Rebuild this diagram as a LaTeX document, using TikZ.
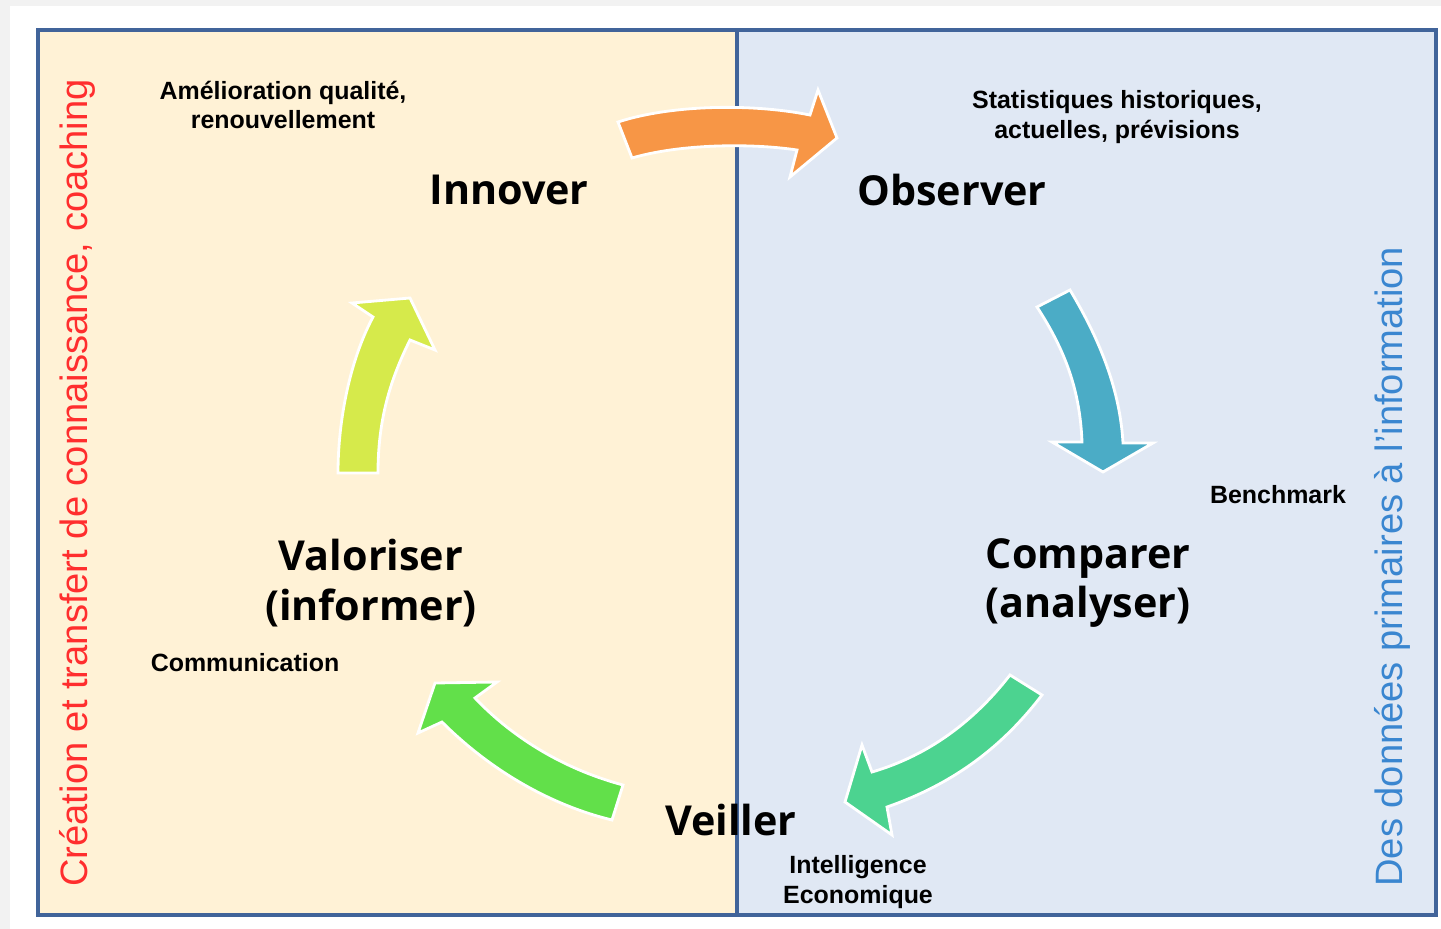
\documentclass[tikz,border=0pt]{standalone}
\usepackage{fontspec}
\setmainfont{Liberation Sans}
\newfontfamily\titrefont{Open Sans}
\definecolor{creme}{HTML}{FFF2D6}
\definecolor{bleupale}{HTML}{E0E8F4}
\definecolor{cadre}{HTML}{41649A}
\definecolor{rougeaxe}{HTML}{FF2E2E}
\definecolor{bleuaxe}{HTML}{3A86D0}
\definecolor{orangeflux}{HTML}{F79646}
\definecolor{bleuflux}{HTML}{4BACC6}
\definecolor{vertflux}{HTML}{4CD390}
\definecolor{vifflux}{HTML}{62E04A}
\definecolor{jauneflux}{HTML}{D6EA4B}
\tikzset{
  etape/.style={font=\titrefont\bfseries\fontsize{23.5}{28.4}\selectfont, align=center, inner sep=0pt},
  detail/.style={font=\bfseries\fontsize{14.2}{17}\selectfont, align=center, inner sep=0pt},
  axe/.style={font=\fontsize{21.7}{26}\selectfont, rotate=90, anchor=west, inner sep=0pt},
  fleche/.style={draw=white, line width=1.6pt, line join=miter}
}
\begin{document}
\begin{tikzpicture}[x=0.02cm,y=-0.02cm]
    \useasboundingbox (0,0) rectangle (1441,929);
    \fill[gray!10] (0,0) rectangle (1441,929);
    \fill[white] (10,6) rectangle (1441,929);
    % les deux zones
    \fill[creme] (38,30) rectangle (737,915);
    \fill[bleupale] (737,30) rectangle (1436,915);
    \draw[cadre,line width=2.3pt] (38,30) rectangle (1436,915);
    \draw[cadre,line width=2.3pt] (737,30) -- (737,915);
    % textes verticaux
    \node[axe,text=rougeaxe] (creation) at (77,887) {Création et transfert de connaissance, coaching};
    \node[axe,text=bleuaxe] (donnees) at (1392,887) {Des données primaires à l'information};
    % fleches du cycle
    \filldraw[fleche,fill=orangeflux] (618,122) .. controls (670,105) and (750,103) .. (810,115)
        -- (818,90) -- (837,138) -- (790,177) -- (797,150)
        .. controls (750,143) and (680,144) .. (632,158) -- cycle;
    \filldraw[fleche,fill=bleuflux] (1070,290) .. controls (1100,340) and (1120,390) .. (1123,443)
        -- (1153,443) -- (1103,472) -- (1052,442) -- (1082,442)
        .. controls (1080,390) and (1065,350) .. (1037,307) -- cycle;
    \filldraw[fleche,fill=vertflux] (1042,695) .. controls (1000,750) and (950,785) .. (887,807)
        -- (892,835) -- (845,802) -- (862,745) -- (872,772)
        .. controls (930,755) and (975,720) .. (1010,675) -- cycle;
    \filldraw[fleche,fill=vifflux] (623,785) .. controls (560,768) and (510,735) .. (475,698)
        -- (497,682) -- (435,683) -- (418,733) -- (442,722)
        .. controls (490,770) and (550,805) .. (612,820) -- cycle;
    \filldraw[fleche,fill=jauneflux] (378,473) .. controls (378,420) and (390,380) .. (410,340)
        -- (435,350) -- (410,298) -- (352,303) -- (373,317)
        .. controls (350,360) and (338,420) .. (338,473) -- cycle;
    % etapes
    \node[etape] (innover) at (509,190) {Innover};
    \node[etape] (observer) at (952,190) {Observer};
    \node[etape] (comparer) at (1088,583) {Comparer\\(analyser)};
    \node[etape] (veiller) at (731,820) {Veiller};
    \node[etape] (valoriser) at (371,583) {Valoriser\\(informer)};
    % details
    \node[detail] (amelioration) at (283,105) {Amélioration qualité,\\renouvellement};
    \node[detail] (statistiques) at (1117,117) {Statistiques historiques,\\actuelles, prévisions};
    \node[detail] (benchmark) at (1278,495) {Benchmark};
    \node[detail] (intelligence) at (858,882) {Intelligence\\Economique};
    \node[detail] (communication) at (245,663) {Communication};
\end{tikzpicture}
\end{document}
